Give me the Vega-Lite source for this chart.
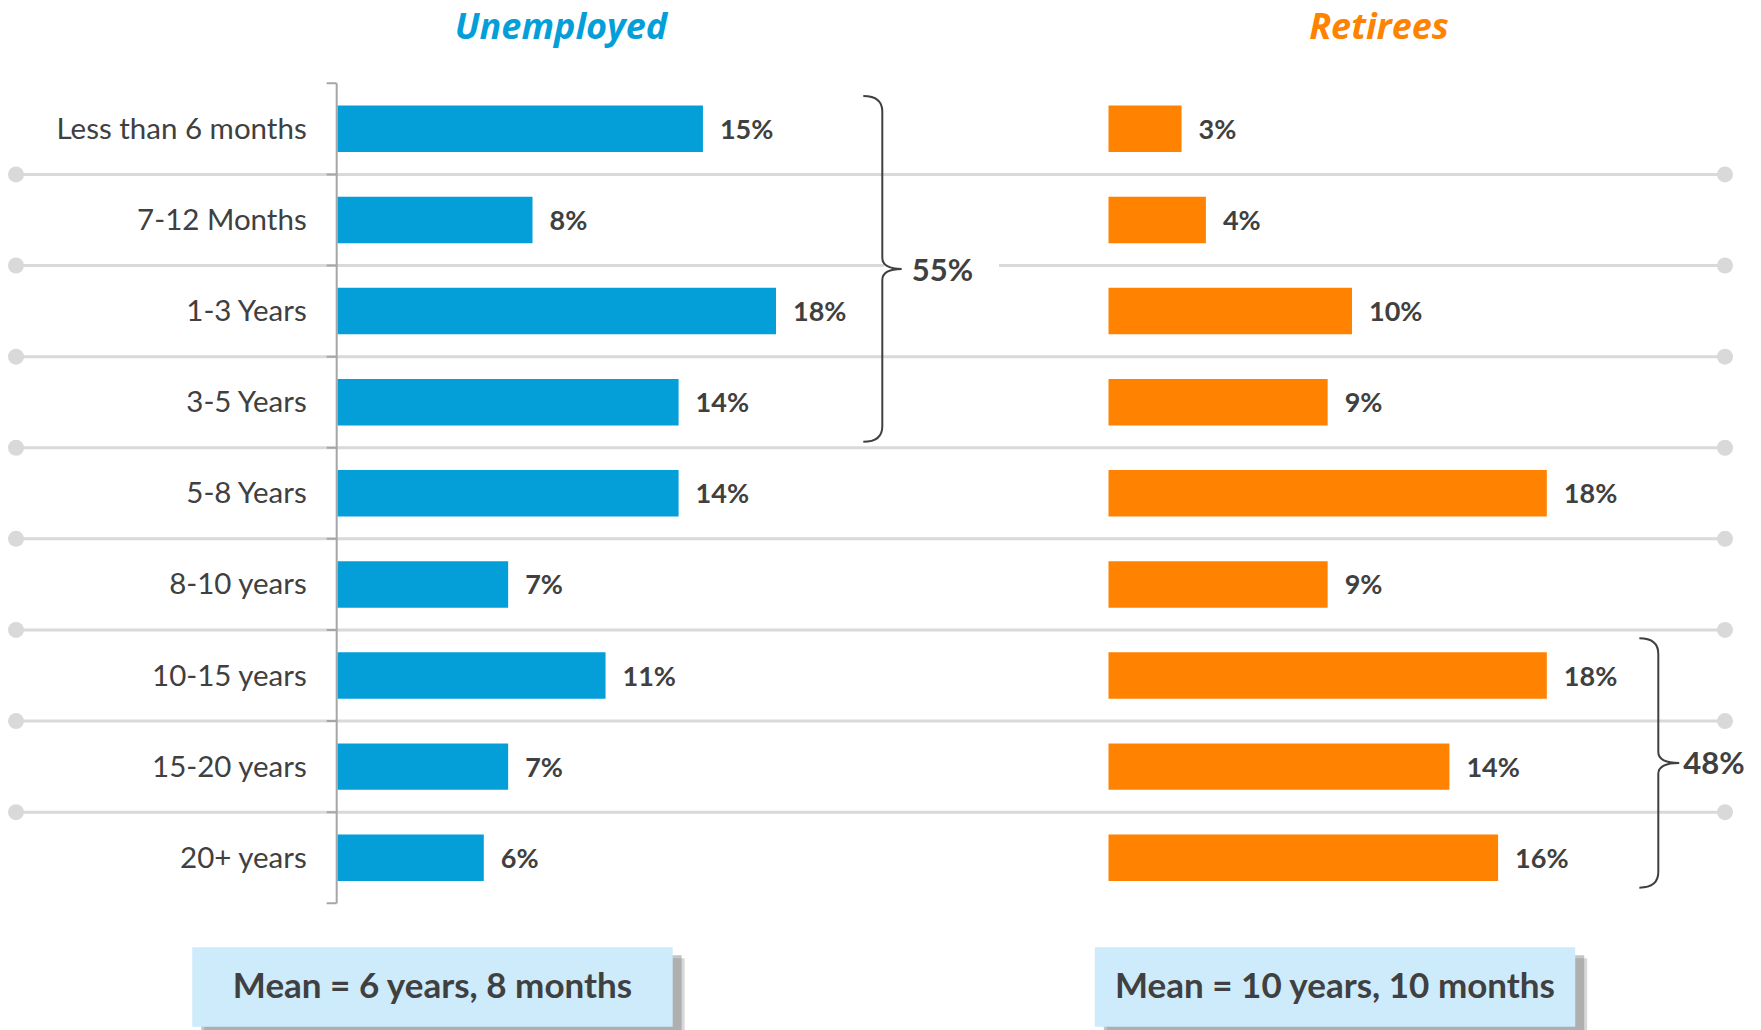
{
  "$schema": "https://vega.github.io/schema/vega-lite/v6.json",
  "width": 1709,
  "height": 1030,
  "autosize": {"type": "none"},
  "padding": {"left": 16, "right": 36, "top": 0, "bottom": 0},
  "background": "white",
  "config": {"view": {"stroke": null}, "font": "Lato"},
  "datasets": {
    "main": [
      {"group": "Unemployed", "cat": "Less than 6 months", "value": 0.15},
      {"group": "Unemployed", "cat": "7-12 Months", "value": 0.08},
      {"group": "Unemployed", "cat": "1-3 Years", "value": 0.18},
      {"group": "Unemployed", "cat": "3-5 Years", "value": 0.14},
      {"group": "Unemployed", "cat": "5-8 Years", "value": 0.14},
      {"group": "Unemployed", "cat": "8-10 years", "value": 0.07},
      {"group": "Unemployed", "cat": "10-15 years", "value": 0.11},
      {"group": "Unemployed", "cat": "15-20 years", "value": 0.07},
      {"group": "Unemployed", "cat": "20+ years", "value": 0.06},
      {"group": "Retirees", "cat": "Less than 6 months", "value": 0.03},
      {"group": "Retirees", "cat": "7-12 Months", "value": 0.04},
      {"group": "Retirees", "cat": "1-3 Years", "value": 0.10},
      {"group": "Retirees", "cat": "3-5 Years", "value": 0.09},
      {"group": "Retirees", "cat": "5-8 Years", "value": 0.18},
      {"group": "Retirees", "cat": "8-10 years", "value": 0.09},
      {"group": "Retirees", "cat": "10-15 years", "value": 0.18},
      {"group": "Retirees", "cat": "15-20 years", "value": 0.14},
      {"group": "Retirees", "cat": "20+ years", "value": 0.16}
    ]
  },
  "resolve": {"scale": {"x": "independent"}},
  "layer": [
    {
      "data": {"name": "main"},
      "transform": [{"filter": "datum.group == 'Unemployed' && datum.cat != 'Less than 6 months'"}],
      "mark": {"type": "rule", "color": "#D9D9D9", "strokeWidth": 3},
      "encoding": {
        "y": {"field": "cat", "type": "nominal", "bandPosition": -0.4804,
          "scale": {"domain": ["Less than 6 months", "7-12 Months", "1-3 Years", "3-5 Years", "5-8 Years", "8-10 years", "10-15 years", "15-20 years", "20+ years"], "range": [83.3, 903.3], "paddingInner": 0.49, "paddingOuter": 0.245},
          "axis": null}
      }
    },
    {
      "layer": [
        {
          "data": {"name": "main"},
          "transform": [{"filter": "datum.group == 'Unemployed' && datum.cat != 'Less than 6 months'"}],
          "mark": {"type": "point", "shape": "circle", "filled": true, "color": "#D9D9D9", "size": 256, "opacity": 1},
          "encoding": {
            "x": {"datum": -0.13211, "type": "quantitative", "scale": {"domain": [-0.13211, 0.56973], "nice": false, "zero": false}, "axis": null},
            "y": {"field": "cat", "type": "nominal", "bandPosition": -0.4804, "axis": null}
          }
        },
        {
          "data": {"name": "main"},
          "transform": [{"filter": "datum.group == 'Unemployed' && datum.cat != 'Less than 6 months'"}],
          "mark": {"type": "point", "shape": "circle", "filled": true, "color": "#D9D9D9", "size": 256, "opacity": 1},
          "encoding": {
            "x": {"datum": 0.56973, "type": "quantitative", "axis": null},
            "y": {"field": "cat", "type": "nominal", "bandPosition": -0.4804, "axis": null}
          }
        },
        {
          "data": {"values": [{"cat": "5-8 Years"}]},
          "mark": {"type": "point", "shape": "M 0 -1 L 0 1 M -0.0244 -1 L 0 -1 M -0.0244 -0.7778 L 0 -0.7778 M -0.0244 -0.5556 L 0 -0.5556 M -0.0244 -0.3333 L 0 -0.3333 M -0.0244 -0.1111 L 0 -0.1111 M -0.0244 0.1111 L 0 0.1111 M -0.0244 0.3333 L 0 0.3333 M -0.0244 0.5556 L 0 0.5556 M -0.0244 0.7778 L 0 0.7778 M -0.0244 1 L 0 1", "filled": false, "color": "#A6A6A6", "strokeWidth": 2, "size": 672400, "opacity": 1},
          "encoding": {
            "x": {"datum": -0.00041, "type": "quantitative", "axis": null},
            "y": {"field": "cat", "type": "nominal", "bandPosition": 0.5, "axis": null}
          }
        },
        {
          "data": {"name": "main"},
          "transform": [{"filter": "datum.group == 'Unemployed'"}],
          "mark": {"type": "text", "align": "right", "baseline": "middle", "dx": -31, "dy": 1, "font": "Lato", "fontSize": 29.5, "color": "#404040"},
          "encoding": {
            "x": {"datum": 0, "type": "quantitative", "axis": null},
            "y": {"field": "cat", "type": "nominal", "axis": null},
            "text": {"field": "cat", "type": "nominal"}
          }
        },
        {
          "data": {"name": "main"},
          "transform": [{"filter": "datum.group == 'Unemployed'"}],
          "mark": {"type": "bar", "color": "#049FD9"},
          "encoding": {
            "x": {"field": "value", "type": "quantitative", "stack": null, "axis": null},
            "y": {"field": "cat", "type": "nominal", "axis": null}
          }
        },
        {
          "data": {"name": "main"},
          "transform": [{"filter": "datum.group == 'Unemployed'"}],
          "mark": {"type": "text", "align": "left", "baseline": "middle", "dx": 17, "dy": 2, "font": "Lato", "fontWeight": "bold", "fontSize": 27, "color": "#404040"},
          "encoding": {
            "x": {"field": "value", "type": "quantitative", "axis": null},
            "y": {"field": "cat", "type": "nominal", "axis": null},
            "text": {"field": "value", "type": "quantitative", "format": ".0%"}
          }
        },
        {
          "data": {"values": [{"cat": "1-3 Years"}]},
          "mark": {"type": "point", "shape": "M -1 -0.3 L 1 -0.3 L 1 0.3 L -1 0.3 Z", "filled": true, "color": "white", "size": 13225, "opacity": 1},
          "encoding": {
            "x": {"datum": 0.24797, "type": "quantitative", "axis": null},
            "y": {"field": "cat", "type": "nominal", "bandPosition": -0.4804, "axis": null}
          }
        },
        {
          "data": {"values": [{"cat": "1-3 Years"}]},
          "mark": {"type": "point", "shape": "M -0.110 -1 Q 0 -1 0 -0.91 L 0 -0.064 Q 0 0 0.112 0 Q 0 0 0 0.064 L 0 0.91 Q 0 1 -0.110 1", "filled": false, "color": "#404040", "strokeWidth": 2, "size": 119508, "opacity": 1},
          "encoding": {
            "x": {"datum": 0.22366, "type": "quantitative", "axis": null},
            "y": {"field": "cat", "type": "nominal", "bandPosition": -0.4076, "axis": null}
          }
        },
        {
          "data": {"values": [{"cat": "1-3 Years"}]},
          "mark": {"type": "text", "align": "left", "baseline": "middle", "dy": 1, "font": "Lato", "fontWeight": "bold", "fontSize": 31, "color": "#404040"},
          "encoding": {
            "x": {"datum": 0.23573, "type": "quantitative", "axis": null},
            "y": {"field": "cat", "type": "nominal", "bandPosition": -0.373, "axis": null},
            "text": {"value": "55%"}
          }
        },
        {
          "data": {"values": [{"cat": "Less than 6 months"}]},
          "mark": {"type": "text", "align": "center", "baseline": "alphabetic", "font": "Open Sans", "fontWeight": "bold", "fontStyle": "italic", "fontSize": 36, "color": "#049FD9"},
          "encoding": {
            "x": {"datum": 0.0917, "type": "quantitative", "axis": null},
            "y": {"field": "cat", "type": "nominal", "bandPosition": -1.4423, "axis": null},
            "text": {"value": "Unemployed"}
          }
        },
        {
          "data": {"values": [{"cat": "20+ years"}]},
          "mark": {"type": "point", "shape": "M -1 -0.1653 L 1 -0.1653 L 1 0.1653 L -1 0.1653 Z", "filled": true, "color": "#7F7F7F", "size": 230784, "opacity": 0.3, "xOffset": 12, "yOffset": 11},
          "encoding": {
            "x": {"datum": 0.03893, "type": "quantitative", "axis": null},
            "y": {"field": "cat", "type": "nominal", "bandPosition": 3.2817, "axis": null}
          }
        },
        {
          "data": {"values": [{"cat": "20+ years"}]},
          "mark": {"type": "point", "shape": "M -1 -0.1653 L 1 -0.1653 L 1 0.1653 L -1 0.1653 Z", "filled": true, "color": "#7F7F7F", "size": 230784, "opacity": 0.45, "xOffset": 9, "yOffset": 8},
          "encoding": {
            "x": {"datum": 0.03893, "type": "quantitative", "axis": null},
            "y": {"field": "cat", "type": "nominal", "bandPosition": 3.2817, "axis": null}
          }
        },
        {
          "data": {"values": [{"cat": "20+ years"}]},
          "mark": {"type": "point", "shape": "M -1 -0.1653 L 1 -0.1653 L 1 0.1653 L -1 0.1653 Z", "filled": true, "color": "#CDEBFB", "size": 230784, "opacity": 1},
          "encoding": {
            "x": {"datum": 0.03893, "type": "quantitative", "axis": null},
            "y": {"field": "cat", "type": "nominal", "bandPosition": 3.2817, "axis": null}
          }
        },
        {
          "data": {"values": [{"cat": "20+ years"}]},
          "mark": {"type": "text", "align": "center", "baseline": "middle", "font": "Lato", "fontWeight": "bold", "fontSize": 35, "color": "#404040"},
          "encoding": {
            "x": {"datum": 0.03893, "type": "quantitative", "axis": null},
            "y": {"field": "cat", "type": "nominal", "bandPosition": 3.2817, "axis": null},
            "text": {"value": "Mean = 6 years, 8 months"}
          }
        }
      ]
    },
    {
      "layer": [
        {
          "data": {"name": "main"},
          "transform": [{"filter": "datum.group == 'Retirees'"}],
          "mark": {"type": "bar", "color": "#FF8200"},
          "encoding": {
            "x": {"field": "value", "type": "quantitative", "stack": null, "scale": {"domain": [-0.44867, 0.25318], "nice": false, "zero": false}, "axis": null},
            "y": {"field": "cat", "type": "nominal", "axis": null}
          }
        },
        {
          "data": {"name": "main"},
          "transform": [{"filter": "datum.group == 'Retirees'"}],
          "mark": {"type": "text", "align": "left", "baseline": "middle", "dx": 17, "dy": 2, "font": "Lato", "fontWeight": "bold", "fontSize": 27, "color": "#404040"},
          "encoding": {
            "x": {"field": "value", "type": "quantitative", "axis": null},
            "y": {"field": "cat", "type": "nominal", "axis": null},
            "text": {"field": "value", "type": "quantitative", "format": ".0%"}
          }
        },
        {
          "data": {"values": [{"cat": "15-20 years"}]},
          "mark": {"type": "point", "shape": "M -0.152 -1 Q 0 -1 0 -0.875 L 0 -0.088 Q 0 0 0.168 0 Q 0 0 0 0.088 L 0 0.875 Q 0 1 -0.152 1", "filled": false, "color": "#404040", "strokeWidth": 2, "size": 62200, "opacity": 1},
          "encoding": {
            "x": {"datum": 0.22579, "type": "quantitative", "axis": null},
            "y": {"field": "cat", "type": "nominal", "bandPosition": 0.4218, "axis": null}
          }
        },
        {
          "data": {"values": [{"cat": "15-20 years"}]},
          "mark": {"type": "text", "align": "left", "baseline": "middle", "dy": 1, "font": "Lato", "fontWeight": "bold", "fontSize": 31, "color": "#404040"},
          "encoding": {
            "x": {"datum": 0.23606, "type": "quantitative", "axis": null},
            "y": {"field": "cat", "type": "nominal", "bandPosition": 0.437, "axis": null},
            "text": {"value": "48%"}
          }
        },
        {
          "data": {"values": [{"cat": "Less than 6 months"}]},
          "mark": {"type": "text", "align": "center", "baseline": "alphabetic", "font": "Open Sans", "fontWeight": "bold", "fontStyle": "italic", "fontSize": 36, "color": "#FF8200"},
          "encoding": {
            "x": {"datum": 0.11109, "type": "quantitative", "axis": null},
            "y": {"field": "cat", "type": "nominal", "bandPosition": -1.4423, "axis": null},
            "text": {"value": "Retirees"}
          }
        },
        {
          "data": {"values": [{"cat": "20+ years"}]},
          "mark": {"type": "point", "shape": "M -1 -0.1653 L 1 -0.1653 L 1 0.1653 L -1 0.1653 Z", "filled": true, "color": "#7F7F7F", "size": 230784, "opacity": 0.3, "xOffset": 12, "yOffset": 11},
          "encoding": {
            "x": {"datum": 0.09302, "type": "quantitative", "axis": null},
            "y": {"field": "cat", "type": "nominal", "bandPosition": 3.2817, "axis": null}
          }
        },
        {
          "data": {"values": [{"cat": "20+ years"}]},
          "mark": {"type": "point", "shape": "M -1 -0.1653 L 1 -0.1653 L 1 0.1653 L -1 0.1653 Z", "filled": true, "color": "#7F7F7F", "size": 230784, "opacity": 0.45, "xOffset": 9, "yOffset": 8},
          "encoding": {
            "x": {"datum": 0.09302, "type": "quantitative", "axis": null},
            "y": {"field": "cat", "type": "nominal", "bandPosition": 3.2817, "axis": null}
          }
        },
        {
          "data": {"values": [{"cat": "20+ years"}]},
          "mark": {"type": "point", "shape": "M -1 -0.1653 L 1 -0.1653 L 1 0.1653 L -1 0.1653 Z", "filled": true, "color": "#CDEBFB", "size": 230784, "opacity": 1},
          "encoding": {
            "x": {"datum": 0.09302, "type": "quantitative", "axis": null},
            "y": {"field": "cat", "type": "nominal", "bandPosition": 3.2817, "axis": null}
          }
        },
        {
          "data": {"values": [{"cat": "20+ years"}]},
          "mark": {"type": "text", "align": "center", "baseline": "middle", "font": "Lato", "fontWeight": "bold", "fontSize": 35, "color": "#404040"},
          "encoding": {
            "x": {"datum": 0.09302, "type": "quantitative", "axis": null},
            "y": {"field": "cat", "type": "nominal", "bandPosition": 3.2817, "axis": null},
            "text": {"value": "Mean = 10 years, 10 months"}
          }
        }
      ]
    }
  ]
}
